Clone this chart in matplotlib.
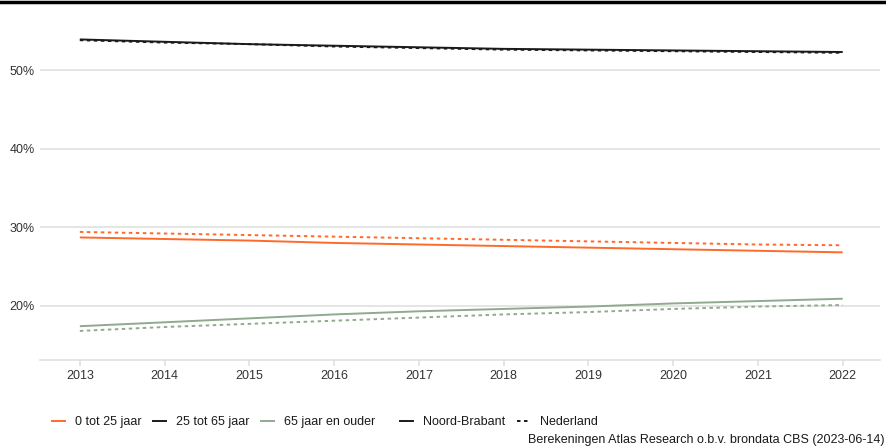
import matplotlib.pyplot as plt
from matplotlib.lines import Line2D
from matplotlib.ticker import FuncFormatter

plt.rcParams['font.family'] = ['Liberation Sans', 'DejaVu Sans']

years = [2013, 2014, 2015, 2016, 2017, 2018, 2019, 2020, 2021, 2022]

# Noord-Brabant
nb_0_25 = [28.7, 28.5, 28.3, 28.0, 27.8, 27.6, 27.4, 27.2, 27.0, 26.8]
nb_25_65 = [53.9, 53.6, 53.3, 53.1, 52.9, 52.7, 52.6, 52.5, 52.4, 52.3]
nb_65 = [17.4, 17.9, 18.4, 18.9, 19.3, 19.6, 19.9, 20.3, 20.6, 20.9]

# Nederland
nl_0_25 = [29.4, 29.2, 29.0, 28.8, 28.6, 28.4, 28.2, 28.0, 27.8, 27.7]
nl_25_65 = [53.8, 53.5, 53.3, 53.0, 52.8, 52.6, 52.5, 52.4, 52.3, 52.2]
nl_65 = [16.8, 17.3, 17.7, 18.1, 18.5, 18.9, 19.2, 19.6, 19.9, 20.1]

groups = ["0 tot 25 jaar", "25 tot 65 jaar", "65 jaar en ouder"]
colors = ["#ff6a2b", "#1a1a1a", "#8faa8c"]
regions = ["Noord-Brabant", "Nederland"]

dash = (0, (1.8, 1.8))

fig = plt.figure(figsize=(8.86, 4.48), dpi=100)
ax = fig.add_axes([40 / 886, 1 - 360 / 448, 840 / 886, (360 - 19) / 448])

nb = [nb_0_25, nb_25_65, nb_65]
nl = [nl_0_25, nl_25_65, nl_65]
for i in range(3):
    ax.plot(years, nb[i], color=colors[i], lw=1.4, solid_capstyle='butt', zorder=3)
    ax.plot(years, nl[i], color=colors[i], lw=1.4, ls=dash, zorder=3)

ax.set_xlim(2012.53, 2022.44)
ax.set_ylim(13.1, 56.5)
ax.set_xticks(years)
ax.set_yticks([20, 30, 40, 50])
ax.yaxis.set_major_formatter(FuncFormatter(lambda v, p: "%d%%" % v))
ax.grid(axis='y', color='#dedede', lw=1.1)
ax.set_axisbelow(True)
for s in ['top', 'right', 'left']:
    ax.spines[s].set_visible(False)
ax.spines['bottom'].set_color('#dedede')
ax.spines['bottom'].set_linewidth(1.1)
ax.tick_params(axis='x', colors='#dedede', length=4, width=1.1, labelcolor='#333333', labelsize=9, pad=3)
ax.tick_params(axis='y', length=0, labelcolor='#333333', labelsize=9, pad=4)

# top rule
fig.add_artist(Line2D([0, 1], [1 - 2 / 448, 1 - 2 / 448], color='black', lw=2.5))

h1 = [Line2D([], [], color=c, lw=1.4) for c in colors]
leg1 = fig.legend(h1, groups, loc='center left', bbox_to_anchor=(52 / 886, 1 - 422 / 448),
                  ncol=3, frameon=False, fontsize=9, handlelength=1.05, handletextpad=0.8,
                  columnspacing=0.9, borderaxespad=0, borderpad=0)
h2 = [Line2D([], [], color='#1a1a1a', lw=1.4),
      Line2D([], [], color='#1a1a1a', lw=1.4, ls=dash)]
leg2 = fig.legend(h2, regions, loc='center left', bbox_to_anchor=(400 / 886, 1 - 422 / 448),
                  ncol=2, frameon=False, fontsize=9, handlelength=1.05, handletextpad=0.8,
                  columnspacing=0.9, borderaxespad=0, borderpad=0)
for t in leg1.get_texts() + leg2.get_texts():
    t.set_color('#1a1a1a')

fig.text(884 / 886, 1 - 440 / 448, "Berekeningen Atlas Research o.b.v. brondata CBS (2023-06-14)",
         ha='right', va='center', fontsize=9, color='#1a1a1a')

fig.savefig("out.png", dpi=100)
